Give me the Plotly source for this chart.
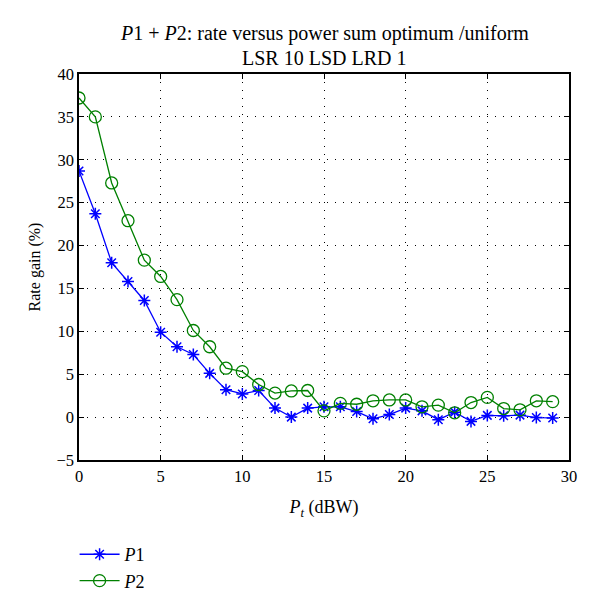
import plotly.graph_objects as go

x_vals = list(range(30))
p1_vals = [28.7, 23.7, 18.0, 15.8, 13.6, 9.9, 8.2, 7.3, 5.1, 3.2, 2.7, 3.1, 1.05, 0.0, 1.05,
           1.2, 1.2, 0.65, -0.2, 0.3, 1.05, 0.73, -0.3, 0.58, -0.5, 0.2, 0.15, 0.23, -0.05, -0.1]
p2_vals = [37.2, 35.0, 27.3, 22.9, 18.3, 16.4, 13.7, 10.1, 8.2, 5.7, 5.3, 3.8, 2.8, 3.05, 3.1,
           0.73, 1.6, 1.5, 1.9, 2.0, 2.0, 1.2, 1.4, 0.5, 1.7, 2.3, 1.0, 0.85, 1.9, 1.8]
x_ticks = [0, 5, 10, 15, 20, 25, 30]
y_ticks = [-5, 0, 5, 10, 15, 20, 25, 30, 35, 40]
title_lines = ["<i>P</i>1 + <i>P</i>2: rate versus power sum optimum /uniform",
               "LSR 10 LSD LRD 1"]

FONT = "Liberation Serif"

fig = go.Figure()
fig.add_trace(go.Scatter(
    x=x_vals, y=p1_vals, mode="lines+markers", name="<i>P</i>1",
    line=dict(color="#0000ff", width=1.3),
    marker=dict(symbol="asterisk-open", size=10, color="#0000ff", line=dict(color="#0000ff", width=1.5)),
))
fig.add_trace(go.Scatter(
    x=x_vals, y=p2_vals, mode="lines+markers", name="<i>P</i>2",
    line=dict(color="#008000", width=1.3),
    marker=dict(symbol="circle-open", size=12, color="#008000", line=dict(color="#008000", width=1.3)),
))

axis_common = dict(
    showline=True, linecolor="black", linewidth=1.5, mirror="ticks",
    ticks="inside", ticklen=5, tickcolor="black",
    showgrid=True, gridcolor="black", griddash="1px,7px", gridwidth=1.2,
    zeroline=False, automargin=False,
    tickfont=dict(family=FONT, size=16.5, color="black"),
)

for txt, ypos in zip(title_lines, [1.106, 1.0415]):
    fig.add_annotation(text=txt, x=0.5, y=ypos, xref="paper", yref="paper",
                       xanchor="center", yanchor="middle", showarrow=False,
                       font=dict(family=FONT, size=20, color="black"))

fig.update_layout(
    width=600, height=605,
    margin=dict(l=79, r=31, t=74, b=145),
    paper_bgcolor="white", plot_bgcolor="white",
    font=dict(family=FONT, color="black"),
    xaxis=dict(range=[0, 30], tickvals=x_ticks,
               title=dict(text="<i>P<sub>t</sub></i> (dBW)", font=dict(family=FONT, size=18), standoff=16),
               **axis_common),
    yaxis=dict(range=[-5, 40], tickvals=y_ticks,
               title=dict(text="Rate gain (%)", font=dict(family=FONT, size=16), standoff=12),
               **axis_common),
    legend=dict(x=-0.009, xanchor="left", y=0.114, yref="container", yanchor="top",
                font=dict(family=FONT, size=18, color="black"),
                bgcolor="rgba(0,0,0,0)", itemwidth=40, tracegroupgap=0),
    showlegend=True,
)

fig.write_html("out.html", config={"displayModeBar": False},
               post_script="document.body.style.margin='0';document.body.style.overflow='hidden';")
